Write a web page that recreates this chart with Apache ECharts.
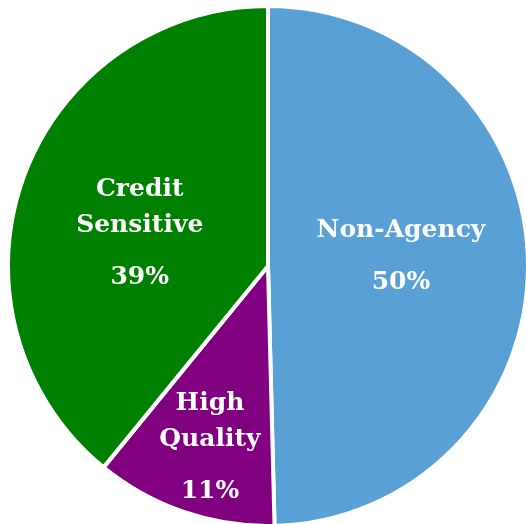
<!DOCTYPE html>
<html>
<head>
<meta charset="utf-8">
<script src="https://cdn.jsdelivr.net/npm/echarts@6/dist/echarts.min.js"></script>
<style>html,body{margin:0;padding:0;background:#fff}#c{width:526px;height:524px}</style>
</head>
<body>
<div id="c"></div>
<script>
const categories = ['Non-Agency', 'High Quality', 'Credit Sensitive'];
const nameLines = [['Non-Agency'], ['High', 'Quality'], ['Credit', 'Sensitive']];
const values = [49.6, 11.3, 39.1];
const colors = ['#59A0D5', '#800080', '#008000'];
const labelShift = [[0, 0], [-15, 64], [-3, 20]];

const chart = echarts.init(document.getElementById('c'), null, {renderer: 'canvas'});
chart.setOption({
  backgroundColor: '#ffffff',
  animation: false,
  series: [{
    type: 'pie',
    center: [268, 266],
    radius: 260,
    startAngle: 90,
    clockwise: true,
    data: categories.map((c, i) => ({name: c, value: values[i], itemStyle: {color: colors[i]}})),
    itemStyle: {borderColor: '#ffffff', borderWidth: 4},
    label: {
      show: true,
      position: 'inside',
      color: '#fff',
      fontSize: 25,
      formatter: p => nameLines[p.dataIndex].map(s => '{n|' + s + '}').join('\n') + '\n{p|' + Math.round(p.value) + '%}',
      rich: {
        n: {fontFamily: 'DejaVu Serif', fontWeight: 'bold', fontSize: 25, color: '#fff', lineHeight: 36, align: 'center'},
        p: {fontFamily: 'DejaVu Serif', fontWeight: 'bold', fontSize: 25, color: '#fff', lineHeight: 68, align: 'center'}
      }
    },
    labelLine: {show: false},
    labelLayout: p => ({dx: labelShift[p.dataIndex][0], dy: labelShift[p.dataIndex][1]}),
    emphasis: {disabled: true}
  }]
});
</script>
</body>
</html>
